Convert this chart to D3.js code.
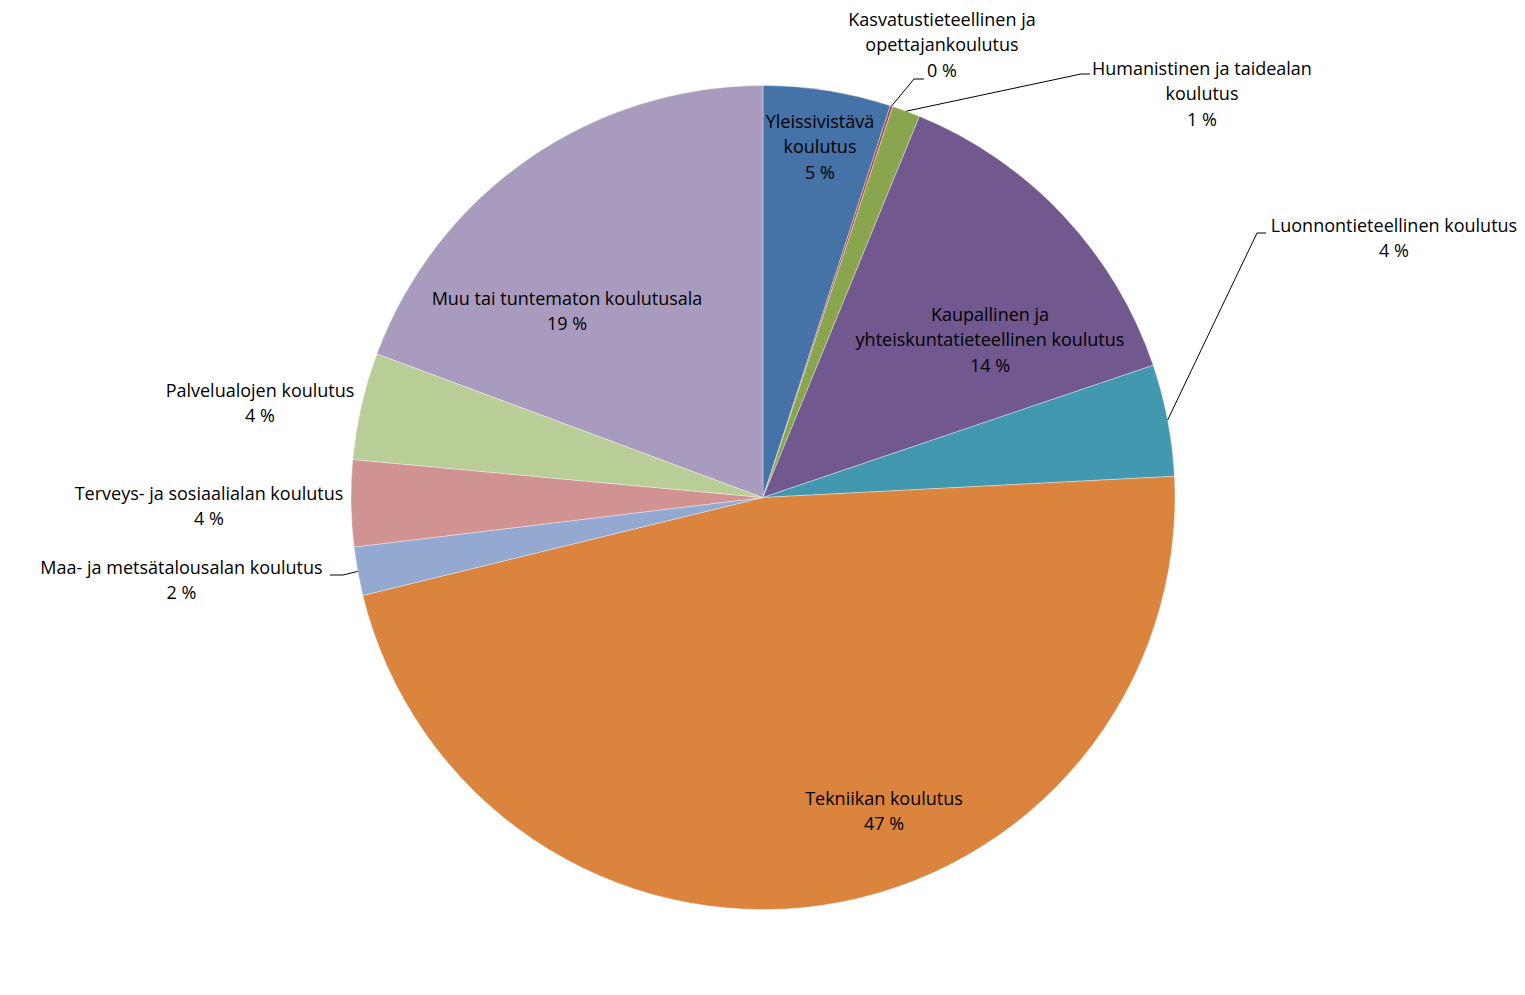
<!DOCTYPE html>
<html>
<head>
<meta charset="utf-8">
<script src="https://cdn.jsdelivr.net/npm/d3@7"></script>
<style>
  html, body { margin: 0; padding: 0; background: #fff; }
  svg { display: block; }
  text { font-family: "Open Sans", Lato, sans-serif; font-size: 18px; fill: #000; }
</style>
</head>
<body>
<svg id="chart" width="1525" height="995"></svg>
<script>
// ---- data ----
const categories = [
  "Yleissivistävä koulutus",
  "Kasvatustieteellinen ja opettajankoulutus",
  "Humanistinen ja taidealan koulutus",
  "Kaupallinen ja yhteiskuntatieteellinen koulutus",
  "Luonnontieteellinen koulutus",
  "Tekniikan koulutus",
  "Maa- ja metsätalousalan koulutus",
  "Terveys- ja sosiaalialan koulutus",
  "Palvelualojen koulutus",
  "Muu tai tuntematon koulutusala"
];
const values = [5.0, 0.1, 1.1, 13.6, 4.38, 47.0, 1.9, 3.39, 4.2, 19.33];
const percentLabels = ["5 %", "0 %", "1 %", "14 %", "4 %", "47 %", "2 %", "4 %", "4 %", "19 %"];
const labelLines = [
  ["Yleissivistävä", "koulutus"],
  ["Kasvatustieteellinen ja", "opettajankoulutus"],
  ["Humanistinen ja taidealan", "koulutus"],
  ["Kaupallinen ja", "yhteiskuntatieteellinen koulutus"],
  ["Luonnontieteellinen koulutus"],
  ["Tekniikan koulutus"],
  ["Maa- ja metsätalousalan koulutus"],
  ["Terveys- ja sosiaalialan koulutus"],
  ["Palvelualojen koulutus"],
  ["Muu tai tuntematon koulutusala"]
];
const colors = ["#4572A7", "#AA4643", "#89A54E", "#71588F", "#4198AF",
                "#DB843D", "#93A9CF", "#D19392", "#B9CD96", "#A99BBD"];

// ---- layout (label block centres; leader elbows) ----
const cx = 763, cy = 497.5, R = 412;
const lineH = 25.3;
const labelLayout = [
  { x: 820, y: 147 },
  { x: 942, y: 45, elbow: [914, 79], end: [924, 79] },
  { x: 1202, y: 94, elbow: [1081, 74], end: [1090, 74] },
  { x: 990, y: 340 },
  { x: 1394, y: 238.5, elbow: [1257, 233], end: [1266, 233] },
  { x: 884, y: 811.5 },
  { x: 181.5, y: 580.5, elbow: [343, 575], end: [330, 575] },
  { x: 209, y: 506.5 },
  { x: 260, y: 403.5 },
  { x: 567, y: 311.5 }
];

const svg = d3.select("#chart");
const g = svg.append("g").attr("transform", `translate(${cx},${cy})`);

const pie = d3.pie().sort(null).value(d => d).startAngle(0).endAngle(2 * Math.PI);
const arcs = pie(values);
const arc = d3.arc().innerRadius(0).outerRadius(R);

g.selectAll("path.slice")
  .data(arcs)
  .enter().append("path")
  .attr("class", "slice")
  .attr("d", arc)
  .attr("fill", (d, i) => colors[i])
  .attr("stroke", "#ffffff")
  .attr("stroke-width", 0.6)
  .attr("stroke-opacity", 0.6);

// leader lines
arcs.forEach((d, i) => {
  const L = labelLayout[i];
  if (!L.elbow) return;
  const mid = (d.startAngle + d.endAngle) / 2;
  const sx = cx + R * Math.sin(mid), sy = cy - R * Math.cos(mid);
  svg.append("polyline")
    .attr("points", [[sx, sy], L.elbow, L.end].map(p => p.join(",")).join(" "))
    .attr("fill", "none")
    .attr("stroke", "#000")
    .attr("stroke-width", 1);
});

// labels
arcs.forEach((d, i) => {
  const L = labelLayout[i];
  const lines = labelLines[i].concat([percentLabels[i]]);
  const n = lines.length;
  const t = svg.append("text").attr("text-anchor", "middle");
  lines.forEach((s, k) => {
    t.append("tspan")
      .attr("x", L.x)
      .attr("y", L.y + (k - (n - 1) / 2) * lineH)
      .attr("dy", "0.35em")
      .text(s);
  });
});
</script>
</body>
</html>
